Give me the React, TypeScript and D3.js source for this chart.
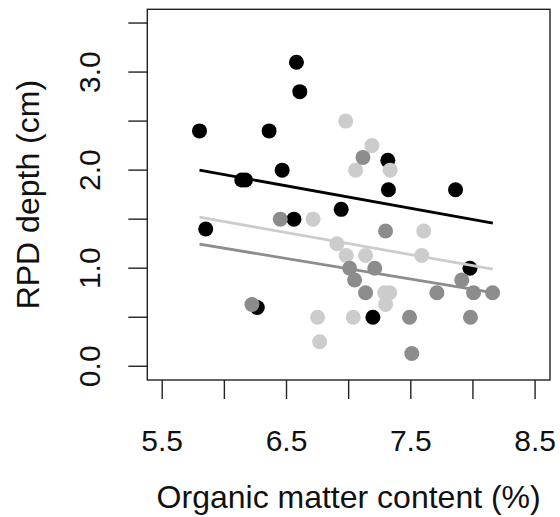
import React from "react";
import * as d3 from "d3";

// Organic matter content (%) vs RPD depth (cm), three sampling groups
const blackX = [6.58, 6.607, 5.80, 6.36, 6.465, 6.14, 6.17, 7.315, 7.32, 7.86, 6.94, 6.56, 5.85, 7.976, 6.265, 7.195];
const blackY = [3.1, 2.8, 2.4, 2.4, 2.0, 1.9, 1.9, 2.1, 1.8, 1.8, 1.6, 1.5, 1.4, 1.0, 0.6, 0.5];

const lightX = [6.976, 7.187, 7.056, 7.334, 6.714, 7.604, 6.906, 6.98, 7.136, 7.588, 7.29, 7.33, 7.297, 6.75, 7.037, 6.767];
const lightY = [2.5, 2.25, 2.0, 2.0, 1.5, 1.38, 1.25, 1.13, 1.13, 1.13, 0.75, 0.75, 0.63, 0.5, 0.5, 0.25];

const darkX = [7.115, 6.45, 7.297, 7.008, 7.21, 7.048, 7.91, 7.136, 7.71, 8.005, 8.158, 6.222, 7.49, 7.98, 7.508];
const darkY = [2.13, 1.5, 1.38, 1.0, 1.0, 0.88, 0.88, 0.75, 0.75, 0.75, 0.75, 0.63, 0.5, 0.5, 0.13];

// fitted values of each group's regression at the ends of the x range
const fitX = [5.8, 8.16];
const blackFit = [2.0, 1.46];
const lightFit = [1.52, 0.99];
const darkFit = [1.245, 0.75];

const xTicks = [5.5, 6.0, 6.5, 7.0, 7.5, 8.0, 8.5];
const xLabels = ["5.5", "6.5", "7.5", "8.5"];
const yTicks = [0, 0.5, 1.0, 1.5, 2.0, 2.5, 3.0, 3.5];
const yLabels = ["0.0", "1.0", "2.0", "3.0"];

const W = 560;
const H = 517;
const box = { left: 147.3, right: 550, top: 9.3, bottom: 380 };
const FONT = "'Liberation Sans', Arial, sans-serif";

export default function App() {
  const x = d3.scaleLinear().domain([5.38, 8.62]).range([box.left, box.right]);
  const y = d3.scaleLinear().domain([-0.14, 3.64]).range([box.bottom, box.top]);
  const line = d3
    .line<[number, number]>()
    .x((d) => x(d[0]))
    .y((d) => y(d[1]));

  const groups = [
    { xs: blackX, ys: blackY, fit: blackFit, color: "#000000" },
    { xs: lightX, ys: lightY, fit: lightFit, color: "#cccccc" },
    { xs: darkX, ys: darkY, fit: darkFit, color: "#8c8c8c" },
  ];

  return (
    <svg
      width={W}
      height={H}
      style={{ position: "fixed", left: 0, top: 0, background: "#fff" }}
      fontFamily={FONT}
    >
      <rect width={W} height={H} fill="#fff" />
      {groups.map((g, gi) => (
        <g key={gi}>
          {g.xs.map((v, i) => (
            <circle key={i} cx={x(v)} cy={y(g.ys[i])} r={7.5} fill={g.color} />
          ))}
        </g>
      ))}
      {groups.map((g, gi) => (
        <path
          key={gi}
          d={line(fitX.map((v, i) => [v, g.fit[i]] as [number, number])) || ""}
          fill="none"
          stroke={g.color}
          strokeWidth={2.8}
        />
      ))}
      <rect
        x={box.left}
        y={box.top}
        width={box.right - box.left}
        height={box.bottom - box.top}
        fill="none"
        stroke="#222"
        strokeWidth={1.4}
      />
      {xTicks.map((t) => (
        <line key={t} x1={x(t)} x2={x(t)} y1={box.bottom} y2={box.bottom + 19} stroke="#222" strokeWidth={1.4} />
      ))}
      {xLabels.map((l) => (
        <text key={l} x={x(+l)} y={450.5} textAnchor="middle" fontSize={30} fill="#111">
          {l}
        </text>
      ))}
      {yTicks.map((t) => (
        <line key={t} x1={box.left - 19} x2={box.left} y1={y(t)} y2={y(t)} stroke="#222" strokeWidth={1.4} />
      ))}
      {yLabels.map((l) => (
        <text
          key={l}
          transform={`translate(100,${y(+l)}) rotate(-90)`}
          textAnchor="middle"
          fontSize={30}
          fill="#111"
        >
          {l}
        </text>
      ))}
      <text x={(box.left + box.right) / 2} y={508} textAnchor="middle" fontSize={32} fill="#111">
        Organic matter content (%)
      </text>
      <text
        transform={`translate(38.5,${(box.top + box.bottom) / 2}) rotate(-90)`}
        textAnchor="middle"
        fontSize={32}
        fill="#111"
      >
        RPD depth (cm)
      </text>
    </svg>
  );
}
